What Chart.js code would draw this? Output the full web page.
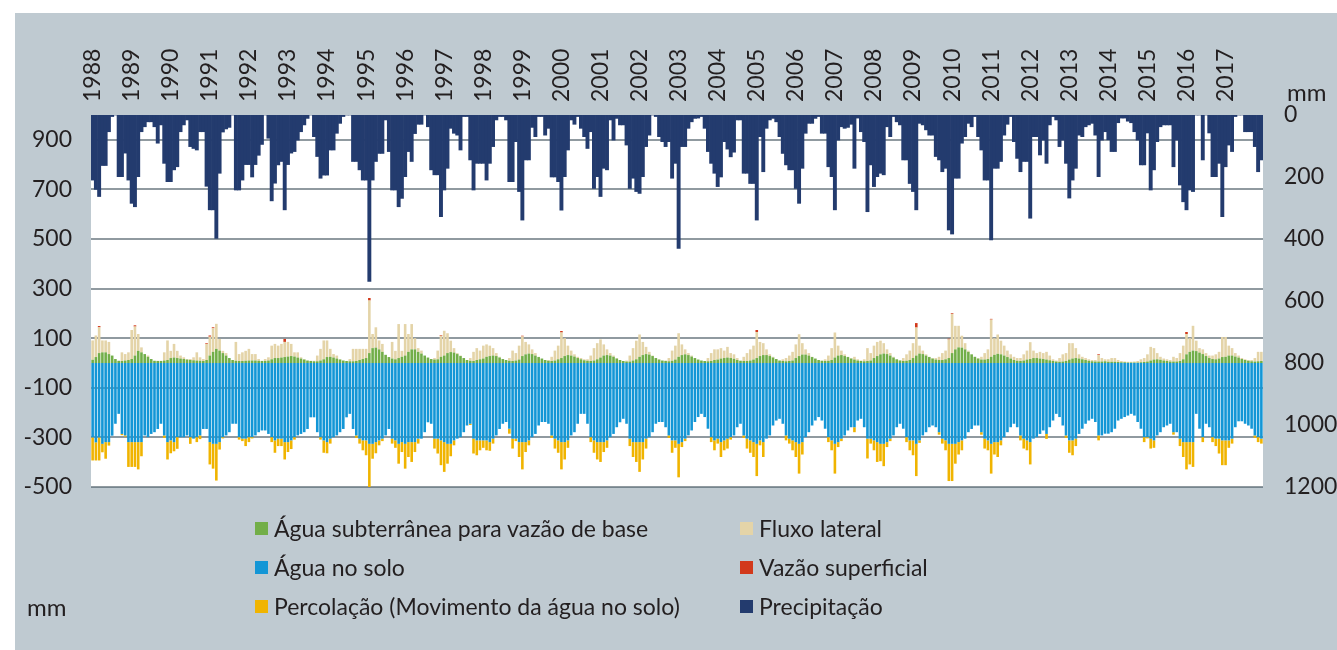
<!DOCTYPE html>
<html lang="pt">
<head>
<meta charset="utf-8">
<title>Balanço hídrico mensal 1988-2017</title>
<script src="https://cdn.jsdelivr.net/npm/chart.js@4.4.0/dist/chart.umd.min.js"></script>
<style>
  html, body { margin: 0; padding: 0; background: #fff; }
  body { width: 1337px; height: 650px; position: relative; overflow: hidden;
         font-family: Lato, 'Open Sans', sans-serif; color: #231f20; }
  .panel { position: absolute; left: 15px; top: 13px; width: 1322px; height: 637px; background: #bfcad1; }
  #chart { position: absolute; left: 0; top: 0; }
  .unit { position: absolute; font-size: 24px; line-height: 24px; }
  .item { position: absolute; height: 24px; line-height: 24px; font-size: 23px;
          white-space: nowrap; display: flex; align-items: center; }
  .sw { width: 13px; height: 13px; margin-right: 6px; flex: none; }
</style>
</head>
<body>
<div class="panel"></div>
<canvas id="chart" width="1337" height="650"></canvas>
<div class="unit" style="left:1287px; top:80px;">mm</div>
<div class="unit" style="left:27px; top:595px;">mm</div>
<div id="legend"></div>

<script>
'use strict';

/* ── data (mm, monthly, Jan..Dec per row) ───────────────── */
const years = [1988, 1989, 1990, 1991, 1992, 1993, 1994, 1995, 1996, 1997,
               1998, 1999, 2000, 2001, 2002, 2003, 2004, 2005, 2006, 2007,
               2008, 2009, 2010, 2011, 2012, 2013, 2014, 2015, 2016, 2017];

const leftTicks = [-500, -300, -100, 100, 300, 500, 700, 900];
const rightTicks = [0, 200, 400, 600, 800, 1000, 1200];

const precip = [
  210, 240, 263, 163, 163, 54, 5, 0, 199, 199, 123, 210,     // 1988
  285, 296, 199, 54, 38, 22, 22, 38, 91, 32, 156, 215,       // 1989
  215, 177, 167, 54, 32, 16, 102, 108, 113, 54, 54, 230,     // 1990
  306, 306, 398, 188, 55, 45, 40, 0, 242, 242, 210, 160,     // 1991
  160, 200, 160, 130, 95, 0, 75, 277, 220, 161, 150, 306,    // 1992
  160, 123, 118, 81, 54, 32, 11, 0, 70, 134, 204, 194,       // 1993
  194, 113, 113, 59, 27, 5, 0, 0, 150, 150, 177, 210,        // 1994
  210, 537, 210, 150, 124, 124, 16, 118, 242, 242, 296, 269, // 1995
  199, 118, 150, 60, 30, 30, 0, 38, 177, 193, 193, 328,      // 1996
  242, 172, 43, 59, 65, 113, 5, 5, 145, 242, 156, 156,       // 1997
  156, 210, 156, 102, 16, 5, 5, 16, 215, 215, 86, 247,       // 1998
  339, 145, 145, 40, 70, 5, 5, 65, 43, 200, 200, 215,        // 1999
  307, 199, 113, 16, 30, 5, 43, 70, 108, 54, 237, 199,       // 2000
  263, 172, 177, 16, 81, 11, 32, 32, 97, 237, 204, 247,      // 2001
  253, 199, 102, 65, 0, 5, 70, 86, 102, 86, 204, 156,        // 2002
  430, 102, 102, 43, 22, 11, 10, 5, 43, 118, 156, 188,       // 2003
  231, 200, 86, 110, 135, 120, 16, 16, 188, 188, 221, 221,   // 2004
  339, 70, 183, 43, 16, 11, 22, 70, 124, 161, 177, 177,      // 2005
  237, 285, 172, 59, 27, 27, 11, 5, 59, 59, 167, 199,        // 2006
  306, 81, 38, 43, 40, 30, 172, 10, 54, 86, 312, 161,        // 2007
  231, 199, 188, 193, 38, 70, 5, 22, 32, 145, 145, 221,      // 2008
  247, 306, 27, 32, 48, 65, 65, 134, 145, 183, 172, 371,     // 2009
  384, 204, 204, 91, 70, 27, 38, 5, 70, 113, 210, 210,       // 2010
  403, 172, 172, 150, 65, 30, 5, 86, 140, 183, 150, 150,     // 2011
  333, 70, 70, 129, 81, 156, 32, 5, 16, 102, 81, 156,        // 2012
  268, 210, 172, 65, 70, 38, 32, 27, 65, 199, 81, 54,        // 2013
  80, 118, 118, 25, 10, 10, 20, 25, 54, 81, 161, 161,        // 2014
  58, 242, 177, 86, 38, 32, 32, 32, 167, 81, 226, 280,       // 2015
  306, 242, 247, 0, 0, 145, 0, 58, 199, 199, 156, 328,       // 2016
  167, 97, 118, 5, 0, 0, 54, 54, 54, 102, 183, 145           // 2017
];

const baseflow = [
  13, 24, 40, 43, 43, 36, 30, 16, 9, 8, 10, 12,
  16, 30, 49, 43, 36, 25, 16, 9, 8, 8, 10, 12,
  20, 22, 20, 18, 16, 14, 12, 11, 10, 9, 8, 12,
  30, 45, 57, 50, 40, 30, 20, 12, 9, 8, 8, 9,
  10, 10, 10, 9, 8, 8, 10, 15, 20, 20, 22, 24,
  26, 28, 26, 22, 18, 14, 10, 8, 7, 7, 10, 15,
  24, 25, 22, 18, 14, 10, 8, 7, 7, 8, 12, 16,
  20, 40, 60, 62, 55, 45, 33, 24, 18, 15, 20, 25,
  30, 45, 55, 55, 45, 38, 30, 22, 16, 14, 15, 25,
  30, 40, 44, 42, 36, 28, 20, 12, 9, 8, 12, 15,
  18, 25, 28, 30, 28, 22, 16, 12, 9, 8, 10, 14,
  28, 35, 38, 36, 30, 24, 18, 12, 9, 8, 10, 15,
  20, 28, 32, 30, 26, 20, 15, 11, 9, 8, 10, 15,
  22, 30, 32, 30, 25, 18, 12, 8, 6, 6, 10, 15,
  25, 32, 36, 34, 28, 20, 14, 10, 8, 7, 9, 14,
  25, 32, 35, 32, 26, 20, 14, 10, 8, 7, 8, 12,
  14, 18, 20, 22, 20, 17, 12, 9, 8, 8, 10, 14,
  20, 28, 32, 32, 28, 22, 16, 10, 8, 7, 8, 10,
  20, 28, 34, 34, 30, 24, 18, 12, 9, 8, 9, 12,
  22, 30, 32, 28, 24, 18, 14, 10, 8, 7, 8, 10,
  20, 28, 35, 38, 36, 30, 22, 15, 10, 8, 9, 12,
  20, 30, 38, 36, 30, 24, 18, 14, 12, 12, 15, 20,
  40, 55, 63, 62, 55, 45, 35, 25, 18, 14, 14, 16,
  25, 33, 37, 35, 30, 24, 18, 12, 9, 8, 10, 14,
  16, 20, 20, 18, 16, 14, 11, 8, 6, 5, 6, 8,
  14, 18, 20, 18, 15, 12, 9, 7, 6, 6, 6, 7,
  5, 5, 5, 4, 3, 3, 2, 2, 2, 2, 3, 4,
  6, 10, 14, 15, 13, 10, 8, 6, 6, 6, 8, 15,
  35, 45, 50, 48, 42, 36, 28, 20, 16, 15, 18, 24,
  25, 30, 30, 26, 22, 16, 12, 9, 7, 6, 7, 8
];

const lateral = [
  78, 87, 104, 48, 48, 49, 0, 0, 0, 35, 26, 31,
  117, 117, 68, 20, 0, 5, 0, 0, 1, 1, 33, 79,
  29, 55, 29, 12, 7, 2, 4, 12, 33, 14, 8, 65,
  76, 95, 101, 47, 9, 10, 0, 0, 76, 28, 35, 40,
  47, 26, 26, 7, 1, 8, 13, 55, 57, 50, 55, 61,
  59, 49, 17, 21, 5, 2, 0, 1, 2, 23, 47, 76,
  67, 32, 14, 12, 2, 0, 0, 9, 50, 49, 45, 41,
  37, 212, 57, 82, 36, 32, 0, 0, 67, 34, 137, 24,
  127, 72, 102, 45, 15, 12, 0, 0, 0, 6, 35, 85,
  100, 80, 46, 18, 4, 2, 0, 0, 11, 37, 48, 35,
  52, 50, 42, 30, 12, 3, 0, 0, 11, 42, 30, 56,
  79, 50, 37, 19, 10, 1, 0, 0, 3, 17, 40, 55,
  103, 72, 38, 20, 9, 5, 5, 4, 6, 22, 50, 65,
  73, 45, 23, 10, 5, 2, 0, 0, 4, 24, 50, 75,
  90, 53, 29, 11, 2, 0, 1, 0, 2, 13, 41, 56,
  95, 43, 20, 8, 4, 0, 0, 0, 0, 13, 32, 43,
  41, 42, 30, 43, 20, 18, 8, 1, 17, 32, 45, 56,
  105, 57, 48, 23, 7, 3, 0, 0, 7, 13, 22, 35,
  55, 88, 46, 21, 10, 1, 0, 0, 1, 7, 21, 48,
  101, 40, 18, 7, 1, 2, 11, 5, 2, 8, 52, 30,
  50, 57, 55, 42, 19, 10, 3, 0, 2, 12, 26, 38,
  60, 113, 32, 14, 5, 1, 2, 6, 13, 28, 35, 75,
  158, 95, 87, 48, 25, 5, 0, 0, 2, 11, 26, 39,
  150, 67, 78, 55, 40, 26, 17, 13, 11, 12, 25, 36,
  68, 30, 20, 27, 24, 31, 19, 7, 4, 15, 29, 32,
  66, 62, 40, 17, 10, 8, 6, 5, 6, 26, 14, 8,
  10, 15, 15, 8, 5, 3, 3, 3, 4, 6, 12, 16,
  29, 55, 46, 25, 12, 8, 7, 6, 19, 14, 32, 55,
  82, 55, 100, 42, 18, 19, 12, 10, 14, 20, 27, 81,
  80, 40, 30, 14, 8, 4, 3, 3, 5, 14, 38, 37
];

const surface = [
  0, 0, 5, 0, 0, 0, 0, 0, 0, 0, 0, 0,
  0, 5, 0, 0, 0, 0, 0, 0, 0, 0, 0, 0,
  0, 0, 0, 0, 0, 0, 0, 0, 0, 0, 0, 3,
  5, 4, 0, 0, 0, 0, 0, 0, 0, 0, 0, 0,
  0, 0, 0, 0, 0, 0, 0, 0, 0, 0, 0, 12,
  0, 0, 0, 0, 0, 0, 0, 0, 0, 0, 0, 0,
  0, 0, 0, 0, 0, 0, 0, 0, 0, 0, 0, 0,
  0, 10, 0, 0, 0, 0, 0, 0, 0, 0, 0, 0,
  0, 0, 0, 0, 0, 0, 0, 0, 0, 0, 0, 3,
  0, 0, 0, 0, 0, 0, 0, 0, 0, 0, 0, 0,
  0, 0, 0, 0, 0, 0, 0, 0, 0, 0, 0, 0,
  3, 0, 0, 0, 0, 0, 0, 0, 0, 0, 0, 0,
  6, 0, 0, 0, 0, 0, 0, 0, 0, 0, 0, 0,
  0, 0, 0, 0, 0, 0, 0, 0, 0, 0, 0, 0,
  0, 0, 0, 0, 0, 0, 0, 0, 0, 0, 0, 0,
  0, 0, 0, 0, 0, 0, 0, 0, 0, 0, 0, 0,
  0, 0, 0, 0, 0, 0, 0, 0, 0, 0, 0, 0,
  8, 0, 0, 0, 0, 0, 0, 0, 0, 0, 0, 0,
  0, 0, 0, 0, 0, 0, 0, 0, 0, 0, 0, 0,
  0, 0, 0, 0, 0, 0, 0, 0, 0, 0, 0, 0,
  0, 0, 0, 0, 0, 0, 0, 0, 0, 0, 0, 0,
  0, 18, 0, 0, 0, 0, 0, 0, 0, 0, 0, 3,
  3, 0, 0, 0, 0, 0, 0, 0, 0, 0, 0, 0,
  3, 0, 0, 0, 0, 0, 0, 0, 0, 0, 0, 0,
  0, 0, 0, 0, 0, 0, 0, 0, 0, 0, 0, 0,
  0, 0, 0, 0, 0, 0, 0, 0, 0, 3, 0, 0,
  0, 0, 0, 0, 0, 0, 0, 0, 0, 0, 0, 0,
  0, 0, 0, 0, 0, 0, 0, 0, 0, 0, 0, 0,
  8, 0, 0, 0, 0, 0, 0, 0, 0, 0, 0, 0,
  0, 0, 0, 0, 0, 0, 0, 0, 0, 0, 0, 0
];

const soilWater = [
  -300, -320, -300, -326, -319, -319, -293, -245, -205, -286, -292, -319,
  -319, -319, -319, -319, -292, -299, -286, -279, -266, -245, -292, -319,
  -312, -319, -299, -299, -299, -292, -299, -305, -299, -292, -266, -266,
  -319, -326, -326, -319, -299, -292, -279, -245, -245, -299, -305, -305,
  -299, -299, -292, -279, -272, -272, -286, -299, -312, -305, -305, -319,
  -319, -312, -299, -292, -286, -279, -266, -219, -219, -279, -299, -312,
  -319, -305, -299, -292, -279, -266, -219, -205, -266, -292, -305, -312,
  -312, -326, -326, -319, -312, -305, -292, -266, -305, -312, -326, -319,
  -326, -319, -319, -319, -305, -305, -279, -239, -245, -305, -305, -312,
  -319, -326, -326, -312, -305, -299, -279, -252, -245, -305, -312, -312,
  -312, -312, -319, -305, -292, -266, -245, -238, -265, -305, -305, -319,
  -319, -319, -312, -299, -286, -252, -238, -238, -245, -292, -305, -312,
  -319, -319, -312, -292, -279, -245, -205, -205, -245, -299, -312, -319,
  -319, -319, -312, -299, -286, -259, -239, -225, -245, -305, -319, -319,
  -319, -319, -305, -299, -279, -245, -238, -238, -259, -292, -312, -312,
  -326, -319, -305, -292, -272, -238, -218, -205, -218, -265, -299, -312,
  -305, -319, -312, -305, -299, -292, -259, -245, -292, -305, -312, -319,
  -326, -312, -319, -305, -292, -252, -232, -225, -245, -292, -305, -312,
  -319, -326, -319, -299, -279, -252, -232, -218, -232, -265, -299, -312,
  -326, -319, -305, -292, -272, -259, -259, -232, -225, -259, -305, -305,
  -312, -319, -326, -326, -319, -305, -292, -259, -245, -265, -299, -312,
  -312, -326, -312, -292, -279, -259, -252, -259, -279, -305, -312, -326,
  -326, -326, -319, -312, -305, -279, -266, -252, -252, -279, -305, -312,
  -326, -319, -319, -312, -299, -279, -259, -245, -259, -292, -305, -312,
  -319, -305, -299, -286, -272, -286, -259, -232, -205, -218, -252, -292,
  -312, -312, -305, -286, -265, -245, -232, -225, -238, -292, -292, -285,
  -285, -279, -265, -232, -225, -218, -212, -205, -212, -238, -265, -299,
  -299, -305, -312, -292, -279, -259, -252, -245, -279, -279, -305, -319,
  -319, -319, -319, -205, -265, -299, -245, -259, -299, -305, -305, -312,
  -312, -312, -305, -259, -235, -235, -245, -252, -265, -292, -299, -305
];

const percolation = [
  -93, -73, -93, -34, -67, -14, 0, 0, 0, -5, -5, -100,
  -100, -100, -110, -57, 0, 0, 0, 0, 0, 0, -10, -70,
  -52, -37, -47, 0, 0, 0, -27, 0, -20, -15, 0, 0,
  -90, -100, -148, -30, -5, 0, 0, 0, 0, -10, -10, -30,
  -20, -5, 0, 0, 0, 0, 0, -20, -50, -30, -30, -70,
  -40, -35, -10, 0, 0, 0, 0, 0, 0, 0, -10, -50,
  -45, -20, 0, 0, 0, 0, 0, 0, 0, -10, -20, -40,
  -60, -200, -60, -45, -20, -10, 0, 0, -20, -30, -80, -40,
  -100, -60, -80, -40, -20, 0, 0, 0, 0, -40, -60, -100,
  -120, -80, -50, -20, 0, 0, 0, 0, -5, -60, -60, -40,
  -30, -40, -35, -20, 0, 0, 0, 0, -20, -40, -10, -60,
  -110, -40, -20, 0, 0, 0, 0, 0, 0, -10, -40, -50,
  -110, -70, -30, 0, 0, 0, 0, 0, 0, -20, -50, -70,
  -80, -40, -30, 0, 0, 0, 0, 0, 0, -30, -60, -80,
  -120, -70, -40, 0, 0, 0, 0, 0, 0, -10, -50, -30,
  -135, -20, -10, 0, 0, 0, 0, 0, 0, 0, -20, -40,
  -20, -60, -40, -40, -10, 0, 0, 0, -10, -40, -50, -60,
  -130, -20, -60, 0, 0, 0, 0, 0, 0, -20, -20, -40,
  -60, -120, -50, 0, 0, 0, 0, 0, 0, 0, -20, -40,
  -120, -20, -10, 0, 0, 0, -20, 0, 0, 0, -80, -20,
  -40, -80, -70, -90, -20, -10, 0, 0, 0, 0, -20, -40,
  -60, -130, -10, 0, 0, 0, 0, 0, -10, -20, -40, -150,
  -150, -80, -50, -40, 0, 0, 0, 0, 0, -10, -40, -40,
  -120, -50, -60, -20, 0, 0, 0, 0, 0, -20, -40, -40,
  -90, 0, 0, 0, 0, -20, 0, 0, 0, 0, 0, -10,
  -50, -60, -30, 0, 0, 0, 0, 0, 0, -20, 0, 0,
  0, 0, 0, 0, 0, 0, 0, 0, 0, 0, 0, -20,
  -5, -40, -30, 0, 0, 0, 0, 0, -10, 0, -30, -60,
  -110, -90, -100, 0, 0, -20, 0, 0, -20, -30, -60, -100,
  -100, -30, -20, 0, 0, 0, 0, 0, 0, -10, -20, -20
];

/* ── style ─────────────────────────────────────────────── */
const FONT  = 'Lato, "Open Sans", sans-serif';
const TXT   = '#231f20';
const GRID  = 'rgba(70, 86, 96, 0.6)';
const C = {
  green:  '#72ae48',
  tan:    '#e4d4a8',
  red:    '#d2391b',
  blue:   '#1396d6',
  yellow: '#f0b400',
  navy:   '#233b6e'
};
const YEAR_SIZE = 23;

// one label per January, empty for the other months
const monthLabels = years.flatMap(y => [String(y)].concat(Array(11).fill('')));

const flowBar = { stack: 'f', yAxisID: 'y', barPercentage: 0.8, categoryPercentage: 1, borderWidth: 0 };

const plotBg = {
  id: 'plotBg',
  beforeDraw(chart) {
    const { ctx, chartArea: a } = chart;
    ctx.save();
    ctx.fillStyle = '#fff';
    ctx.fillRect(a.left, a.top, a.right - a.left, a.bottom - a.top);
    ctx.restore();
  }
};

new Chart(document.getElementById('chart'), {
  type: 'bar',
  data: {
    labels: monthLabels,
    datasets: [
      { ...flowBar, label: 'Água subterrânea para vazão de base', data: baseflow, backgroundColor: C.green },
      { ...flowBar, label: 'Fluxo lateral', data: lateral, backgroundColor: C.tan },
      { ...flowBar, label: 'Vazão superficial', data: surface, backgroundColor: C.red },
      { ...flowBar, label: 'Água no solo', data: soilWater, backgroundColor: C.blue },
      { ...flowBar, label: 'Percolação (Movimento da água no solo)', data: percolation, backgroundColor: C.yellow },
      { label: 'Precipitação', data: precip, yAxisID: 'y2', grouped: false,
        barPercentage: 1, categoryPercentage: 1, borderWidth: 0, backgroundColor: C.navy }
    ]
  },
  options: {
    responsive: false,
    animation: false,
    layout: { padding: { top: 0, left: 0, right: 0, bottom: 163 } },
    plugins: { legend: { display: false }, tooltip: { enabled: false } },
    scales: {
      x: {
        type: 'category', position: 'top', stacked: true, offset: true,
        grid: { display: false, drawTicks: false },
        border: { display: false },
        ticks: { autoSkip: false, minRotation: 90, maxRotation: 90, padding: 13,
                 labelOffset: YEAR_SIZE,   // rotated labels are pushed back by one line height
                 color: TXT, font: { family: FONT, size: YEAR_SIZE, lineHeight: 1 } },
        afterFit(s) { s.height = 115; }
      },
      y: {
        position: 'left', stacked: true, min: -500, max: 1000, z: 1,
        afterBuildTicks(s) { s.ticks = leftTicks.map(v => ({ value: v })); },
        grid: { color: GRID, lineWidth: 2, drawTicks: false },
        border: { display: false },
        ticks: { padding: 19, color: TXT, font: { family: FONT, size: 23 }, callback: v => String(v) },
        afterFit(s) { s.width = 91; }
      },
      y2: {
        position: 'right', reverse: true, min: 0, max: 1200,
        afterBuildTicks(s) { s.ticks = rightTicks.map(v => ({ value: v })); },
        grid: { display: false, drawTicks: false },
        border: { display: false },
        ticks: { padding: 21, color: TXT, font: { family: FONT, size: 23 }, callback: v => String(v) },
        afterFit(s) { s.width = 74; }
      }
    }
  },
  plugins: [plotBg]
});

/* ── legend (two columns, three rows) ─────────────────── */
const legendItems = [
  ['Água subterrânea para vazão de base', C.green, 255, 528],
  ['Fluxo lateral', C.tan, 740, 528],
  ['Água no solo', C.blue, 255, 567],
  ['Vazão superficial', C.red, 740, 567],
  ['Percolação (Movimento da água no solo)', C.yellow, 255, 606],
  ['Precipitação', C.navy, 740, 606]
];
const lg = document.getElementById('legend');
legendItems.forEach(([txt, col, x, y]) => {
  const d = document.createElement('div');
  d.className = 'item';
  d.style.left = x + 'px';
  d.style.top = (y - 12) + 'px';
  d.innerHTML = `<span class="sw" style="background:${col}"></span><span>${txt}</span>`;
  lg.appendChild(d);
});
</script>
</body>
</html>
